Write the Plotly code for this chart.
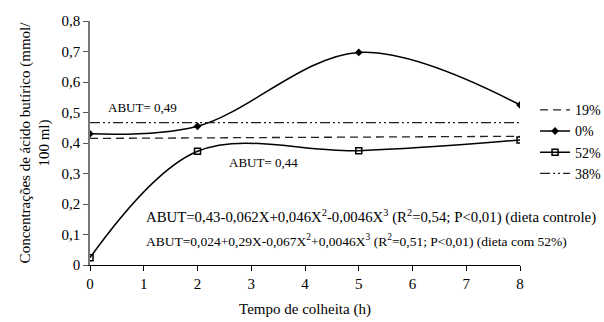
import plotly.graph_objects as go

hours = [0, 2, 5, 8]
s0 = [0.43, 0.455, 0.697, 0.525]
s52 = [0.024, 0.373, 0.375, 0.41]
s19_x = [0, 8]
s19 = [0.415, 0.422]
s38_x = [0, 8]
s38 = [0.467, 0.467]
xticks = [0, 1, 2, 3, 4, 5, 6, 7, 8]
yticks = [0, 0.1, 0.2, 0.3, 0.4, 0.5, 0.6, 0.7, 0.8]
ylabels = ["0", "0,1", "0,2", "0,3", "0,4", "0,5", "0,6", "0,7", "0,8"]

FONT = "'Times New Roman', 'Liberation Serif', 'DejaVu Serif', serif"

fig = go.Figure()
fig.add_trace(go.Scatter(x=s19_x, y=s19, mode="lines", name="19%",
                         line=dict(color="#222", width=1.3, dash="8px,5px")))
fig.add_trace(go.Scatter(x=hours, y=s0, mode="lines+markers", name="0%",
                         line=dict(color="black", width=1.5, shape="spline", smoothing=1.0),
                         marker=dict(symbol="diamond", size=6, color="black")))
fig.add_trace(go.Scatter(x=hours, y=s52, mode="lines+markers", name="52%",
                         line=dict(color="black", width=1.5, shape="spline", smoothing=1.0),
                         marker=dict(symbol="square-open", size=6, color="black", line=dict(width=1.5))))
fig.add_trace(go.Scatter(x=s38_x, y=s38, mode="lines", name="38%",
                         line=dict(color="#222", width=1.3, dash="10px,3px,2px,3px,2px,3px")))

fig.add_annotation(x=0.3, y=0.515, xref="x", yref="y", text="ABUT= 0,49", showarrow=False,
                   xanchor="left", font=dict(size=13, family=FONT))
fig.add_annotation(x=2.55, y=0.335, xref="x", yref="y", text="ABUT= 0,44", showarrow=False,
                   xanchor="left", font=dict(size=13, family=FONT))
fig.add_annotation(x=1.0, y=0.158, xref="x", yref="y",
                   text="ABUT=0,43-0,062X+0,046X<sup>2</sup>-0,0046X<sup>3</sup> (R<sup>2</sup>=0,54; P<0,01) (dieta controle)",
                   showarrow=False, xanchor="left", font=dict(size=14.8, family=FONT))
fig.add_annotation(x=1.0, y=0.08, xref="x", yref="y",
                   text="ABUT=0,024+0,29X-0,067X<sup>2</sup>+0,0046X<sup>3</sup> (R<sup>2</sup>=0,51; P<0,01) (dieta com 52%)",
                   showarrow=False, xanchor="left", font=dict(size=13.5, family=FONT))

fig.update_layout(
    width=604, height=322,
    margin=dict(l=90, r=84, t=21, b=57, autoexpand=False),
    paper_bgcolor="white", plot_bgcolor="white",
    font=dict(family=FONT, size=15, color="black"),
    showlegend=True,
    legend=dict(x=1.035, y=0.70, xanchor="left", yanchor="top",
                font=dict(size=14, family=FONT), tracegroupgap=0, itemwidth=30,
                bgcolor="rgba(0,0,0,0)"),
    xaxis=dict(range=[0, 8], tickvals=xticks, ticktext=[str(t) for t in xticks],
               showgrid=False, zeroline=False, showline=True, linecolor="black", linewidth=1.2,
               ticks="outside", ticklen=5, tickcolor="black", tickfont=dict(family=FONT, size=15),
               title=dict(text="Tempo de colheita (h)", font=dict(size=15, family=FONT), standoff=12)),
    yaxis=dict(range=[0, 0.8], tickvals=yticks, ticktext=ylabels,
               showgrid=False, zeroline=False, showline=True, linecolor="#777", linewidth=1.5,
               ticks="outside", ticklen=5, tickcolor="#555", tickfont=dict(family=FONT, size=15),
               title=dict(text="Concentrações de ácido butírico (mmol/<br>100 ml)",
                          font=dict(size=15, family=FONT), standoff=8)),
)

fig.write_html("out.html")
